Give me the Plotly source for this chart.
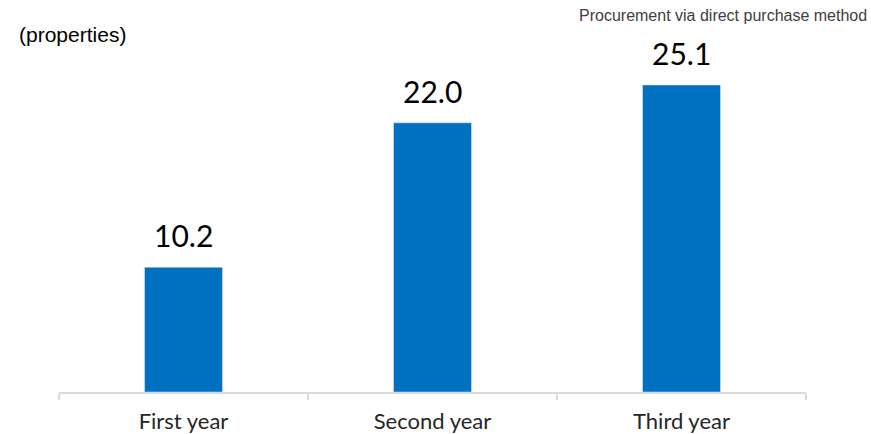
import plotly.graph_objects as go

categories = ["First year", "Second year", "Third year"]
values = [10.2, 22.0, 25.1]
value_labels = ["10.2", "22.0", "25.1"]

fig = go.Figure()
fig.add_trace(go.Bar(
    x=categories, y=values, marker_color="#0070C0", width=0.313,
    hoverinfo="skip",
))

for c, v, t in zip(categories, values, value_labels):
    fig.add_annotation(x=c, y=v, text=t, showarrow=False, yanchor="bottom",
                       yshift=12, font=dict(family="Lato, Open Sans", size=30, color="#000000"))

fig.add_annotation(xref="paper", yref="paper", x=-0.056, y=0.975, xanchor="left", yanchor="middle",
                   text="(properties)", showarrow=False,
                   font=dict(family="Liberation Sans, Arial", size=21, color="#000000"))
fig.add_annotation(xref="paper", yref="paper", x=1.085, y=1.027, xanchor="right", yanchor="middle",
                   text="Procurement via direct purchase method", showarrow=False,
                   font=dict(family="Liberation Sans, Arial", size=16, color="#404040"))

fig.update_layout(
    width=871, height=434,
    margin=dict(l=59, r=65, t=25, b=42),
    paper_bgcolor="white", plot_bgcolor="white",
    showlegend=False,
    xaxis=dict(showline=True, linecolor="#D9D9D9", linewidth=1.5,
               ticks="outside", tickcolor="#D9D9D9", ticklen=6, tickwidth=1.5,
               tickson="boundaries", ticklabelstandoff=9, automargin=False,
               tickfont=dict(family="Lato, Open Sans", size=22, color="#262626")),
    yaxis=dict(range=[0, 30], visible=False, showgrid=False),
)

fig.write_html("out.html")
